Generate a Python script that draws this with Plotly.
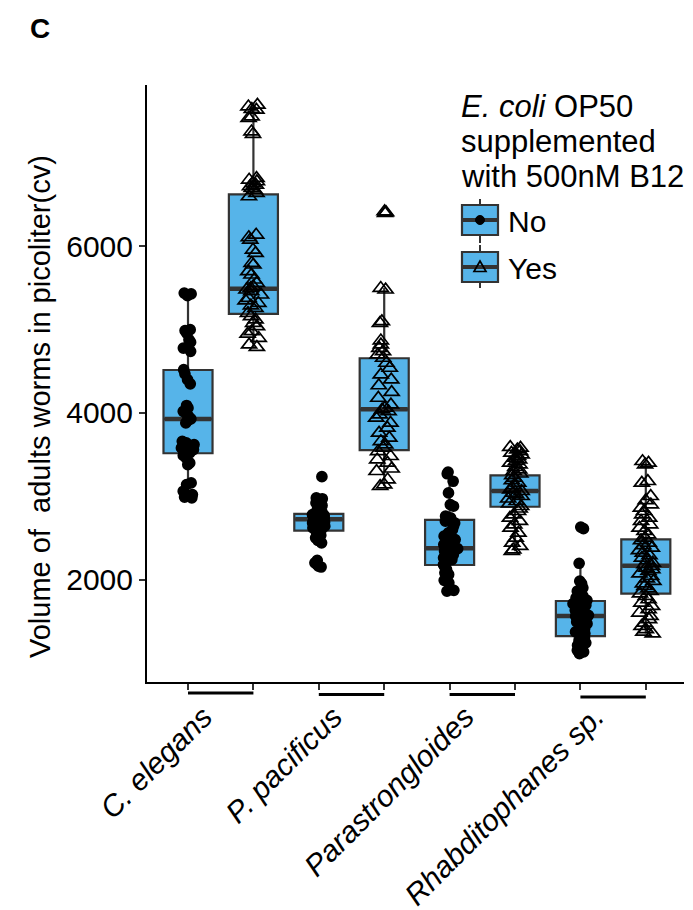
import plotly.graph_objects as go

# ---------------- data ----------------
species = ["C. elegans", "P. pacificus", "Parastrongloides", "Rhabditophanes sp."]
groups = ["No", "Yes"]
y_ticks = [2000, 4000, 6000]
legend_title = ["<i>E. coli</i> OP50", "supplemented", "with 500nM B12"]

# sample points (volume, picoliter)
ce_no = [5440, 5430, 5410, 5000, 4990, 4960, 4880, 4850, 4780, 4740, 4520, 4470, 4400, 4350,
         4090, 4060, 4020, 3990, 3960, 3930, 3910, 3880, 3660, 3640, 3620, 3600, 3580, 3560,
         3540, 3520, 3490, 3460, 3400, 3380, 3160, 3140, 3060, 3020, 2990, 2980]
ce_yes = [7700, 7680, 7650, 7640, 7560, 7540, 7380, 7350, 6820, 6800, 6780, 6760, 6740, 6720,
          6700, 6680, 6640, 6600, 6140, 6110, 6080, 5960, 5920, 5800, 5780, 5700, 5660, 5600,
          5560, 5520, 5500, 5480, 5460, 5420, 5380, 5350, 5320, 5290, 5260, 5200, 5160, 5120,
          5080, 5040, 4980, 4950, 4900, 4820, 4790]
pp_no = [3235, 2980, 2970, 2920, 2890, 2860, 2840, 2810, 2790, 2780, 2770, 2760, 2750, 2740,
         2730, 2720, 2710, 2700, 2690, 2680, 2660, 2640, 2620, 2600, 2580, 2560, 2530, 2500,
         2470, 2440, 2230, 2200, 2180, 2160, 2150]
pp_yes = [6420, 6410, 6400, 5500, 5480, 5100, 5080, 4870, 4820, 4780, 4740, 4700, 4660, 4600,
          4540, 4460, 4400, 4330, 4250, 4180, 4100, 4060, 4040, 4020, 3980, 3940, 3880, 3820,
          3760, 3700, 3660, 3620, 3580, 3540, 3480, 3440, 3400, 3330, 3300, 3200, 3140, 3120]
pa_no = [3290, 3270, 3180, 3040, 2900, 2880, 2760, 2740, 2700, 2680, 2640, 2600, 2560, 2520,
         2480, 2450, 2420, 2400, 2390, 2380, 2370, 2360, 2340, 2320, 2300, 2280, 2260, 2240,
         2200, 2180, 2150, 2120, 2080, 2060, 1990, 1960, 1880, 1870, 1860]
pa_yes = [3590, 3580, 3560, 3540, 3520, 3500, 3480, 3460, 3440, 3420, 3400, 3380, 3350, 3320,
          3300, 3270, 3250, 3220, 3190, 3160, 3130, 3100, 3080, 3060, 3040, 3020, 3000, 2970,
          2940, 2910, 2880, 2850, 2820, 2780, 2740, 2700, 2660, 2620, 2560, 2500, 2440, 2400,
          2360, 2340]
rh_no = [2630, 2610, 2195, 1980, 1950, 1900, 1860, 1830, 1800, 1780, 1750, 1730, 1710, 1690,
         1670, 1650, 1630, 1610, 1590, 1570, 1560, 1550, 1530, 1510, 1490, 1470, 1450, 1430,
         1410, 1390, 1370, 1350, 1320, 1300, 1270, 1240, 1210, 1180, 1150, 1130, 1110]
rh_yes = [3420, 3400, 3380, 3180, 3160, 3000, 2950, 2900, 2860, 2820, 2780, 2740, 2700, 2660,
          2620, 2580, 2540, 2500, 2470, 2440, 2410, 2380, 2350, 2320, 2290, 2260, 2230, 2200,
          2180, 2160, 2140, 2120, 2100, 2070, 2040, 2010, 1980, 1950, 1920, 1890, 1860, 1830,
          1800, 1760, 1720, 1680, 1640, 1600, 1560, 1520, 1480, 1440, 1400, 1370, 1350]

# box quartiles (species order)
no_q1 = [3516, 2586, 2174, 1321]
no_med = [3928, 2723, 2375, 1562]
no_q3 = [4516, 2787, 2715, 1742]
yes_q1 = [5189, 3555, 2874, 1830]
yes_med = [5493, 4044, 3063, 2166]
yes_q3 = [6626, 4657, 3251, 2483]

no_points = [ce_no, pp_no, pa_no, rh_no]
yes_points = [ce_yes, pp_yes, pa_yes, rh_yes]

# ---------------- derived ----------------
pos_no = [2 * i + 1 for i in range(len(species))]
pos_yes = [2 * i + 2 for i in range(len(species))]


def whiskers(points, q1, q3):
    lo, hi = [], []
    for pts, a, b in zip(points, q1, q3):
        iqr = b - a
        lo.append(min(p for p in pts if p >= a - 1.5 * iqr))
        hi.append(max(p for p in pts if p <= b + 1.5 * iqr))
    return lo, hi


no_lo, no_hi = whiskers(no_points, no_q1, no_q3)
yes_lo, yes_hi = whiskers(yes_points, yes_q1, yes_q3)

BOX_FILL = "#56B4E9"
BOX_LINE = "#333333"
BW = 0.75

fig = go.Figure()

# boxes
for pos, q1, med, q3, lo, hi in [(pos_no, no_q1, no_med, no_q3, no_lo, no_hi),
                                 (pos_yes, yes_q1, yes_med, yes_q3, yes_lo, yes_hi)]:
    fig.add_trace(go.Box(x=pos, q1=q1, median=med, q3=q3, lowerfence=lo, upperfence=hi,
                         fillcolor=BOX_FILL, line=dict(color=BOX_LINE, width=2.2),
                         whiskerwidth=0, width=BW, boxpoints=False, hoverinfo="skip",
                         showlegend=False))
# thick median bars
for pos, med in [(pos_no, no_med), (pos_yes, yes_med)]:
    fig.add_trace(go.Box(x=pos, q1=med, median=med, q3=med, lowerfence=med, upperfence=med,
                         fillcolor=BOX_LINE, line=dict(color=BOX_LINE, width=4.5),
                         whiskerwidth=0, width=BW - 0.03, boxpoints=False, hoverinfo="skip",
                         showlegend=False))

# jittered points
for pos, pts, sym, size in [(pos_no, no_points, "circle", 10),
                            (pos_yes, yes_points, "triangle-up-open", 13)]:
    xs = [p for p, arr in zip(pos, pts) for _ in arr]
    ys = [v for arr in pts for v in arr]
    fig.add_trace(go.Box(x=xs, y=ys, boxpoints="all", jitter=0.35, pointpos=0, width=BW,
                         fillcolor="rgba(0,0,0,0)",
                         line=dict(color="rgba(0,0,0,0)", width=0),
                         marker=dict(symbol=sym, size=size, color="black",
                                     line=dict(color="black", width=1.7)),
                         hoverinfo="skip", showlegend=False))

FONT = "Liberation Sans, Arial, Helvetica, sans-serif"
# the page body has an 8px margin, so the figure is 8px smaller on the top/left
fig.update_layout(
    width=685, height=902,
    margin=dict(l=139, r=9, t=77, b=228),
    plot_bgcolor="white", paper_bgcolor="white",
    boxmode="overlay", showlegend=False,
    font=dict(family=FONT, size=30, color="black"),
    xaxis=dict(range=[0.373, 8.584], tickvals=pos_no + pos_yes,
               ticktext=[""] * (len(pos_no) + len(pos_yes)),
               ticks="outside", ticklen=6, tickwidth=2, tickcolor=BOX_LINE,
               showline=True, linecolor="black", linewidth=2,
               showgrid=False, zeroline=False),
    yaxis=dict(range=[769, 7939], tickvals=y_ticks, ticktext=[str(t) for t in y_ticks],
               ticks="outside", ticklen=6, tickwidth=2, tickcolor=BOX_LINE,
               showline=True, linecolor="black", linewidth=2,
               showgrid=False, zeroline=False,
               tickfont=dict(size=30, color="black")),
)

# window pixel -> paper coordinates (plot area in window pixels)
PW, PH, L, T = 537.0, 597.0, 147.0, 85.0


def px(x):
    return (x - L) / PW


def py(y):
    return (T + PH - y) / PH


annotations = []
shapes = []

# species labels and group underlines
under_y = [693, 694.5, 694.5, 697]
for i, sp in enumerate(species):
    annotations.append(dict(text="<i>" + sp + "</i>", x=(pos_no[i] + pos_yes[i]) / 2,
                            xref="x", y=py(697), yref="paper", xanchor="right",
                            yanchor="top", textangle=-45, showarrow=False,
                            font=dict(size=30)))
    shapes.append(dict(type="line", x0=pos_no[i], x1=pos_yes[i], xref="x",
                       y0=py(under_y[i]), y1=py(under_y[i]), yref="paper",
                       line=dict(color="black", width=3)))

# y axis title
annotations.append(dict(text="Volume of\u00a0 adults worms in picoliter(cv)", x=px(40),
                        y=py(407), xref="paper", yref="paper", xanchor="center",
                        yanchor="middle", textangle=-90, showarrow=False,
                        font=dict(size=29)))
# panel label
annotations.append(dict(text="<b>C</b>", x=px(40), y=py(29), xref="paper", yref="paper",
                        xanchor="center", yanchor="middle", showarrow=False,
                        font=dict(size=28)))

# legend title (one annotation per line for tight line spacing)
for line, yc in zip(legend_title, [106, 141, 176]):
    annotations.append(dict(text=line, x=px(459), y=py(yc), xref="paper", yref="paper",
                            xanchor="left", yanchor="middle", showarrow=False,
                            font=dict(size=31)))

key_x0, key_x1, key_xc = 462, 498, 480
for (top, bot, wt, wb), label, marker in [((205, 235, 199, 243), groups[0], "circle"),
                                          ((252, 282, 245, 288), groups[1], "triangle")]:
    mid = (top + bot) / 2
    shapes.append(dict(type="line", xref="paper", yref="paper", x0=px(key_xc), x1=px(key_xc),
                       y0=py(wt), y1=py(top), line=dict(color=BOX_LINE, width=2)))
    shapes.append(dict(type="line", xref="paper", yref="paper", x0=px(key_xc), x1=px(key_xc),
                       y0=py(bot), y1=py(wb), line=dict(color=BOX_LINE, width=2)))
    shapes.append(dict(type="rect", xref="paper", yref="paper", x0=px(key_x0), x1=px(key_x1),
                       y0=py(bot), y1=py(top), fillcolor=BOX_FILL,
                       line=dict(color=BOX_LINE, width=2.2)))
    shapes.append(dict(type="line", xref="paper", yref="paper", x0=px(key_x0), x1=px(key_x1),
                       y0=py(mid), y1=py(mid), line=dict(color=BOX_LINE, width=4)))
    if marker == "circle":
        shapes.append(dict(type="circle", xref="paper", yref="paper", xsizemode="pixel",
                           ysizemode="pixel", xanchor=px(key_xc), yanchor=py(mid),
                           x0=-4.5, x1=4.5, y0=-4.5, y1=4.5, fillcolor="black",
                           line=dict(color="black", width=1)))
    else:
        shapes.append(dict(type="path", xref="paper", yref="paper", xsizemode="pixel",
                           ysizemode="pixel", xanchor=px(key_xc), yanchor=py(mid),
                           path="M -6 -4.5 L 6 -4.5 L 0 6 Z", fillcolor="rgba(0,0,0,0)",
                           line=dict(color="black", width=1.7)))
    annotations.append(dict(text=label, x=px(506), y=py(mid + 1), xref="paper", yref="paper",
                            xanchor="left", yanchor="middle", showarrow=False,
                            font=dict(size=30)))

fig.update_layout(annotations=annotations, shapes=shapes)
fig.write_html("out.html")
